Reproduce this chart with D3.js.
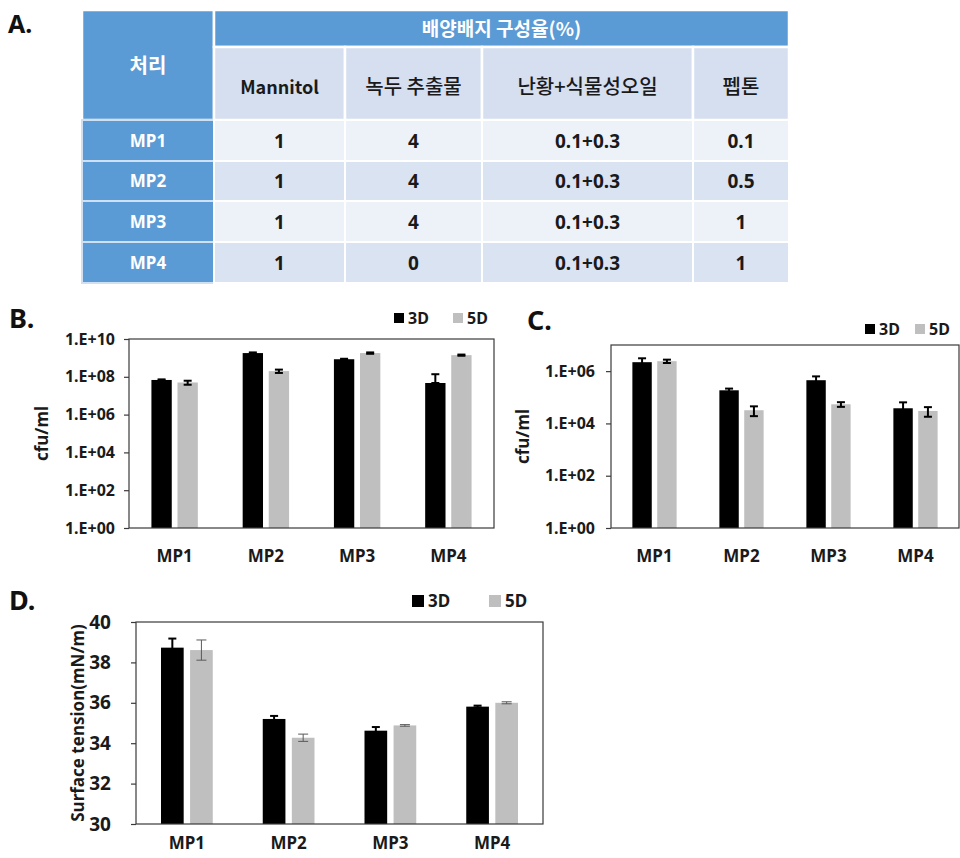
<!DOCTYPE html>
<html>
<head>
<meta charset="utf-8">
<script src="https://cdn.jsdelivr.net/npm/d3@7"></script>
<style>
  body { margin: 0; background: #ffffff; }
  svg { display: block; font-family: "Noto Sans", "Noto Sans CJK KR", sans-serif; }
</style>
</head>
<body>
<svg id="fig" width="960" height="858"></svg>
<script>
// ---- composition table ----
const tableTitle = "배양배지 구성율(%)";
const rowTitle = "처리";
const components = ["Mannitol", "녹두 추출물", "난황+식물성오일", "펩톤"];
const treatments = ["MP1", "MP2", "MP3", "MP4"];
const mannitolPct = ["1", "1", "1", "1"];
const mungBeanPct = ["4", "4", "4", "0"];
const yolkOilPct = ["0.1+0.3", "0.1+0.3", "0.1+0.3", "0.1+0.3"];
const peptonePct = ["0.1", "0.5", "1", "1"];

// ---- bar chart data ----
const groups = ["MP1", "MP2", "MP3", "MP4"];
const days = ["3D", "5D"];

const cfuB3D = [6.8e7, 1.8e9, 8.5e8, 4.7e7];
const cfuB3DErr = [0.5e7, 0.15e9, 0.5e8, 9.0e7];
const cfuB5D = [5.0e7, 2.0e8, 1.8e9, 1.4e9];
const cfuB5DErr = [1.2e7, 0.4e8, 0.15e9, 0.1e9];

const cfuC3D = [2.2e6, 1.85e5, 4.5e5, 3.8e4];
const cfuC3DErr = [0.9e6, 0.3e5, 1.8e5, 2.6e4];
const cfuC5D = [2.4e6, 3.2e4, 5.4e4, 3.0e4];
const cfuC5DErr = [0.35e6, 1.3e4, 1.1e4, 1.2e4];

const tension3D = [38.73, 35.2, 34.62, 35.81];
const tension3DErr = [0.45, 0.15, 0.18, 0.05];
const tension5D = [38.61, 34.27, 34.88, 36.0];
const tension5DErr = [0.5, 0.18, 0.04, 0.05];

const ticksB = [1, 1e2, 1e4, 1e6, 1e8, 1e10];
const ticksC = [1, 1e2, 1e4, 1e6];
const ticksD = [30, 32, 34, 36, 38, 40];

const svg = d3.select("#fig");
const BLUE = "#5b9bd5", SUBHEAD = "#d5dff0", ROW_LIGHT = "#edf2f9", ROW_DARK = "#d9e3f2";
const BAR3 = "#000000", BAR5 = "#bfbfbf";
const KR = "'Noto Sans CJK KR', 'Noto Sans', sans-serif";

// ---- panel letters ----
const letters = [
  { t: "A.", x: 8, y: 33, s: 25 },
  { t: "B.", x: 9, y: 328, s: 27 },
  { t: "C.", x: 527, y: 330, s: 27 },
  { t: "D.", x: 9, y: 610, s: 27 }
];
svg.selectAll("text.letter").data(letters).join("text")
  .attr("class", "letter")
  .attr("x", d => d.x).attr("y", d => d.y)
  .attr("font-size", d => d.s).attr("font-weight", "bold")
  .attr("fill", "#111")
  .text(d => d.t);

// ---- table ----
(function drawTable() {
  const g = svg.append("g");
  const colEdges = [82, 214, 345, 482, 693, 789];
  const headTop = 10, headMid = 47, headBottom = 120;
  const rowEdges = [120, 161, 201, 242, 283];
  const bodyCols = [mannitolPct, mungBeanPct, yolkOilPct, peptonePct];

  // left title cell
  g.append("rect").attr("x", colEdges[0]).attr("y", headTop)
    .attr("width", colEdges[1] - colEdges[0]).attr("height", headBottom - headTop)
    .attr("fill", BLUE).attr("stroke", "#fff").attr("stroke-width", 2.5);
  g.append("text").attr("x", (colEdges[0] + colEdges[1]) / 2).attr("y", 73)
    .attr("text-anchor", "middle").attr("font-size", 20).attr("font-weight", "bold")
    .attr("fill", "#fff").attr("font-family", KR)
    .text(rowTitle);

  // top band
  g.append("rect").attr("x", colEdges[1]).attr("y", headTop)
    .attr("width", colEdges[5] - colEdges[1]).attr("height", headMid - headTop)
    .attr("fill", BLUE).attr("stroke", "#fff").attr("stroke-width", 2.5);
  g.append("text").attr("x", (colEdges[1] + colEdges[5]) / 2).attr("y", 36)
    .attr("text-anchor", "middle").attr("font-size", 19).attr("font-weight", "bold")
    .attr("fill", "#fff").attr("font-family", KR)
    .text(tableTitle);

  // component headers
  const heads = g.selectAll("g.head").data(components).join("g").attr("class", "head");
  heads.append("rect")
    .attr("x", (d, i) => colEdges[i + 1]).attr("y", headMid)
    .attr("width", (d, i) => colEdges[i + 2] - colEdges[i + 1]).attr("height", headBottom - headMid)
    .attr("fill", SUBHEAD).attr("stroke", "#fff").attr("stroke-width", 2.5);
  heads.append("text")
    .attr("x", (d, i) => (colEdges[i + 1] + colEdges[i + 2]) / 2).attr("y", 94)
    .attr("text-anchor", "middle").attr("font-size", (d, i) => i === 0 ? 18 : 20)
    .attr("font-weight", (d, i) => i === 0 ? "bold" : "500")
    .attr("font-family", KR)
    .attr("fill", "#1a1a1a")
    .text(d => d);

  // body rows
  treatments.forEach((t, r) => {
    const y0 = rowEdges[r], y1 = rowEdges[r + 1];
    const cy = (y0 + y1) / 2 + 7;
    g.append("rect").attr("x", colEdges[0]).attr("y", y0)
      .attr("width", colEdges[1] - colEdges[0]).attr("height", y1 - y0)
      .attr("fill", BLUE).attr("stroke", "#cfe0f3").attr("stroke-width", 2);
    g.append("text").attr("x", (colEdges[0] + colEdges[1]) / 2).attr("y", cy - 1)
      .attr("text-anchor", "middle").attr("font-size", 17).attr("font-weight", "bold")
      .attr("fill", "#fff").text(t);
    bodyCols.forEach((col, c) => {
      g.append("rect").attr("x", colEdges[c + 1]).attr("y", y0)
        .attr("width", colEdges[c + 2] - colEdges[c + 1]).attr("height", y1 - y0)
        .attr("fill", r % 2 === 0 ? ROW_LIGHT : ROW_DARK)
        .attr("stroke", "#fff").attr("stroke-width", 2);
      g.append("text").attr("x", (colEdges[c + 1] + colEdges[c + 2]) / 2).attr("y", cy)
        .attr("text-anchor", "middle").attr("font-size", 19).attr("font-weight", "bold")
        .attr("fill", "#1a1a1a").text(col[r]);
    });
  });
})();

// ---- grouped bar chart with error bars ----
function fmtLog(v) {
  const e = Math.round(Math.log10(v));
  return "1.E+" + String(e).padStart(2, "0");
}

function barChart(cfg) {
  const g = svg.append("g");
  const x0 = d3.scaleBand().domain(groups).range([cfg.left, cfg.right]);
  const x1 = d3.scaleBand().domain(days).range([0, x0.bandwidth()])
    .paddingInner(0.22).paddingOuter(0.86);
  const y = cfg.y;
  const yMin = y.domain()[0];

  const series = [
    { key: "3D", vals: cfg.v3, errs: cfg.e3, fill: BAR3, errColor: "#000", errW: 2, cap: 8 },
    { key: "5D", vals: cfg.v5, errs: cfg.e5, fill: BAR5, errColor: cfg.err5Color, errW: cfg.err5W, cap: cfg.cap5 }
  ];

  // bars
  series.forEach(s => {
    g.selectAll(null).data(groups).join("rect")
      .attr("x", d => x0(d) + x1(s.key))
      .attr("width", x1.bandwidth())
      .attr("y", (d, i) => y(s.vals[i]))
      .attr("height", (d, i) => y(yMin) - y(s.vals[i]))
      .attr("fill", s.fill);
  });

  // error bars
  series.forEach(s => {
    groups.forEach((grp, i) => {
      const cx = x0(grp) + x1(s.key) + x1.bandwidth() / 2;
      const v = s.vals[i], e = s.errs[i];
      const hi = y(v + e);
      const lo = (v - e) > yMin ? y(v - e) : y(v);
      const eg = g.append("g").attr("stroke", s.errColor).attr("stroke-width", s.errW);
      eg.append("line").attr("x1", cx).attr("x2", cx).attr("y1", hi).attr("y2", lo);
      eg.append("line").attr("x1", cx - s.cap / 2).attr("x2", cx + s.cap / 2).attr("y1", hi).attr("y2", hi);
      eg.append("line").attr("x1", cx - s.cap / 2).attr("x2", cx + s.cap / 2).attr("y1", lo).attr("y2", lo);
    });
  });

  // plot frame
  g.append("rect")
    .attr("x", cfg.left).attr("y", y.range()[1])
    .attr("width", cfg.right - cfg.left).attr("height", y.range()[0] - y.range()[1])
    .attr("fill", "none").attr("stroke", "#3a3a3a").attr("stroke-width", 1.2);

  // y axis
  const ax = g.append("g").attr("transform", `translate(${cfg.left},0)`)
    .call(d3.axisLeft(y).tickValues(cfg.ticks).tickSize(5)
      .tickPadding(cfg.tickPad).tickFormat(cfg.fmt));
  ax.select(".domain").remove();
  ax.selectAll(".tick line").attr("stroke", "#3a3a3a").attr("stroke-width", 1.2);
  ax.selectAll(".tick text")
    .attr("font-size", cfg.tickFont).attr("font-weight", "bold")
    .attr("fill", "#1a1a1a").attr("font-family", "'Noto Sans', sans-serif");

  // category labels
  g.selectAll(null).data(groups).join("text")
    .attr("x", d => x0(d) + x0.bandwidth() / 2)
    .attr("y", cfg.catY)
    .attr("text-anchor", "middle")
    .attr("font-size", cfg.catFont).attr("font-weight", "bold").attr("fill", "#1a1a1a")
    .text(d => d);

  // y title
  const my = (y.range()[0] + y.range()[1]) / 2;
  g.append("text")
    .attr("transform", `translate(${cfg.titleX},${cfg.titleY || my}) rotate(-90)`)
    .attr("text-anchor", "middle").attr("dy", "0.35em")
    .attr("font-size", cfg.titleFont).attr("font-weight", "bold").attr("fill", "#1a1a1a")
    .text(cfg.title);

  // legend
  const lg = g.append("g");
  const items = [
    { label: days[0], fill: BAR3, x: cfg.legend[0] },
    { label: days[1], fill: BAR5, x: cfg.legend[1] }
  ];
  items.forEach(it => {
    lg.append("rect").attr("x", it.x).attr("y", cfg.legendY - cfg.sq / 2)
      .attr("width", cfg.sq).attr("height", cfg.sq).attr("fill", it.fill);
    lg.append("text").attr("x", it.x + cfg.sq + 4).attr("y", cfg.legendY)
      .attr("dy", "0.36em").attr("font-size", cfg.legendFont).attr("font-weight", "bold")
      .attr("fill", "#1a1a1a").text(it.label);
  });
}

// B: cell count, first medium set
barChart({
  left: 129, right: 494,
  y: d3.scaleLog().domain([1, 1e10]).range([528, 339]),
  ticks: ticksB, fmt: fmtLog, tickPad: 9, tickFont: 16,
  v3: cfuB3D, e3: cfuB3DErr, v5: cfuB5D, e5: cfuB5DErr,
  err5Color: "#000", err5W: 2, cap5: 8,
  catY: 562, catFont: 17,
  title: "cfu/ml", titleX: 42, titleFont: 17,
  legend: [394, 453], legendY: 318, sq: 10, legendFont: 16
});

// C: cell count, second medium set
barChart({
  left: 611, right: 959,
  y: d3.scaleLog().domain([1, 1e7]).range([528, 345]),
  ticks: ticksC, fmt: fmtLog, tickPad: 11, tickFont: 16,
  v3: cfuC3D, e3: cfuC3DErr, v5: cfuC5D, e5: cfuC5DErr,
  err5Color: "#000", err5W: 2, cap5: 8,
  catY: 562, catFont: 17,
  title: "cfu/ml", titleX: 523, titleFont: 17,
  legend: [865, 915], legendY: 329, sq: 10, legendFont: 16
});

// D: surface tension
barChart({
  left: 136, right: 543,
  y: d3.scaleLinear().domain([30, 40]).range([824, 622]),
  ticks: ticksD, fmt: d3.format("d"), tickPad: 20, tickFont: 19,
  v3: tension3D, e3: tension3DErr, v5: tension5D, e5: tension5DErr,
  err5Color: "#595959", err5W: 1, cap5: 10,
  catY: 849, catFont: 17,
  title: "Surface tension(mN/m)", titleX: 78, titleFont: 17,
  legend: [412, 489], legendY: 601, sq: 12, legendFont: 17
});
</script>
</body>
</html>
